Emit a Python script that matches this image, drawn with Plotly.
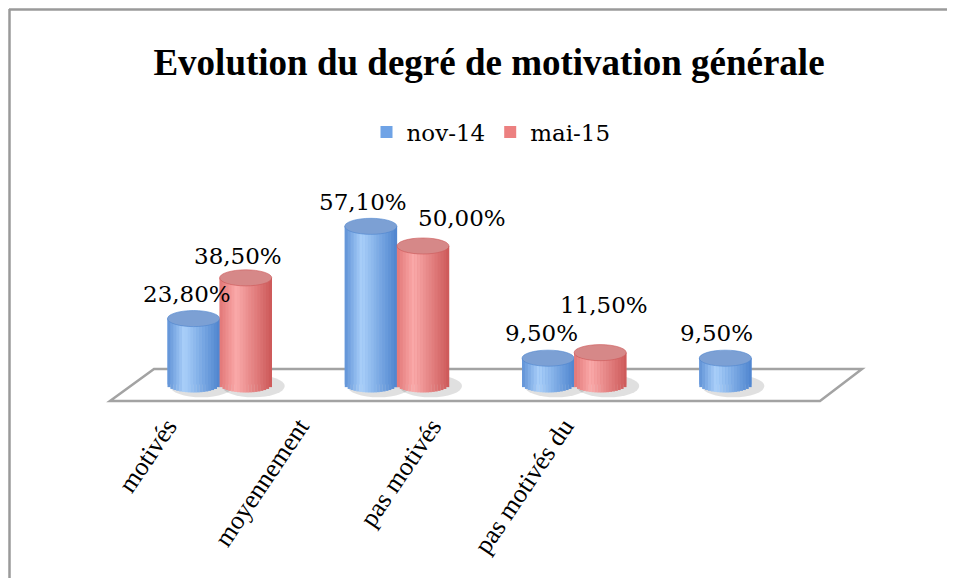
import plotly.graph_objects as go
import math

# ---- data ----
categories = ["motivés", "moyennement", "pas motivés", "pas motivés du"]
nov14 = [23.8, 57.1, 9.5, 9.5]
mai15 = [38.5, 50.0, 11.5, None]
series_names = ["nov-14", "mai-15"]
title_text = "Evolution du degré de motivation générale"

# ---- geometry / style (page pixel targets, page has 8px body offset) ----
OFF = 8
W, H = 955, 578
# plot area in page pixels
PX0, PX1 = 90, 870
PY0, PY1 = 170, 405
ML = PX0 - OFF
MR = W - (PX1 - OFF)
MT = PY0 - OFF
MB = H - (PY1 - OFF)
PW = PX1 - PX0
PH = PY1 - PY0
Y0PIX = 384.5       # page y of value 0
PXPERUNIT = 2.77
YR = [-(PY1 - Y0PIX) / PXPERUNIT, (Y0PIX - PY0) / PXPERUNIT]

def px_x(p):
    return (p - PX0) / PW

def px_y(p):
    return (PY1 - p) / PH

XDOM = [px_x(131), px_x(840)]
X2DOM = [px_x(101), px_x(630)]
BW = 0.294          # bar width in category units
EH = 2.9            # ellipse half-height in y units
NSTRIP = 18

def lerp(c1, c2, t):
    return tuple(int(round(a + (b - a) * t)) for a, b in zip(c1, c2))

def hexc(c):
    return "rgb(%d,%d,%d)" % c

styles = {
    "nov-14": dict(edge=(96, 146, 214), hi=(170, 208, 250), right=(78, 132, 206),
                   top=(124, 160, 212), base="#6fa3e6"),
    "mai-15": dict(edge=(226, 118, 118), hi=(250, 170, 170), right=(204, 88, 88),
                   top=(214, 136, 136), base="#ec8080"),
}

def profile(st, u):
    if u < 0.32:
        return lerp(st["edge"], st["hi"], u / 0.32)
    return lerp(st["hi"], st["right"], (u - 0.32) / 0.68)

fig = go.Figure()

shapes = []
# outer frame (top & left lines)
shapes.append(dict(type="line", xref="paper", yref="paper", x0=px_x(9), x1=px_x(975),
                   y0=px_y(9.5), y1=px_y(9.5), line=dict(color="#9a9a9a", width=2.5)))
shapes.append(dict(type="line", xref="paper", yref="paper", x0=px_x(9.5), x1=px_x(9.5),
                   y0=px_y(9), y1=px_y(600), line=dict(color="#9a9a9a", width=2.5)))
# floor
floor_path = "M %f %f L %f %f L %f %f L %f %f Z" % (
    px_x(154), px_y(369), px_x(862), px_y(369), px_x(820), px_y(401), px_x(110), px_y(401))
shapes.append(dict(type="path", xref="paper", yref="paper", path=floor_path,
                   fillcolor="white", line=dict(color="#a3a3a3", width=2.5), layer="below"))

offsets = {"nov-14": -BW / 2, "mai-15": BW / 2}
values = {"nov-14": nov14, "mai-15": mai15}

# bar traces (base)
for name in series_names:
    fig.add_trace(go.Bar(
        x=list(range(len(categories))), y=values[name], name=name,
        marker=dict(color=styles[name]["base"], line=dict(width=0)),
        width=BW, offset=offsets[name] - BW / 2, hoverinfo="skip",
    ))

# invisible trace to activate the category label axis
fig.add_trace(go.Scatter(x=list(range(len(categories))), y=[0] * len(categories),
                         xaxis="x2", yaxis="y", mode="markers",
                         marker=dict(opacity=0), showlegend=False, hoverinfo="skip"))

# cylinder decoration derived from data
for k in range(len(categories)):
    for name in series_names:
        v = values[name][k]
        if v is None:
            continue
        st = styles[name]
        xc = k + offsets[name]
        shapes.append(dict(type="circle", xref="x", yref="y", x0=xc - BW * 0.45, x1=xc + BW * 0.75,
                           y0=-EH * 1.6, y1=EH * 1.2, fillcolor="rgba(0,0,0,0.12)",
                           line=dict(width=0), layer="below"))
        for i in range(NSTRIP):
            u0 = i / NSTRIP
            u1 = (i + 1) / NSTRIP
            uc = (u0 + u1) / 2
            dxc = uc * 2 - 1
            yb = -EH * math.sqrt(max(0.0, 1 - dxc * dxc))
            col = profile(st, uc)
            shapes.append(dict(type="rect", xref="x", yref="y",
                               x0=xc - BW / 2 + u0 * BW, x1=xc - BW / 2 + u1 * BW + 0.0015,
                               y0=yb, y1=v, fillcolor=hexc(col), line=dict(width=0)))
        shapes.append(dict(type="circle", xref="x", yref="y", x0=xc - BW / 2, x1=xc + BW / 2,
                           y0=v - EH, y1=v + EH, fillcolor=hexc(st["top"]),
                           line=dict(color=hexc(st["right"]), width=0.6)))

# data labels
label_shift = {
    "nov-14": [(-7, 17), (-8, 16), (-7, 17), (-9, 17)],
    "mai-15": [(-8, 14), (39, 20), (4, 40), (0, 0)],
}
annotations = []
for name in series_names:
    for k, v in enumerate(values[name]):
        if v is None:
            continue
        sx, sy = label_shift[name][k]
        annotations.append(dict(
            x=k + offsets[name], y=v + EH, xref="x", yref="y",
            text=("%.2f" % v).replace(".", ",") + "%",
            showarrow=False, xshift=sx, yshift=sy, yanchor="middle",
            font=dict(family="DejaVu Serif", size=23, color="black")))

fig.update_layout(
    width=W, height=H,
    margin=dict(l=ML, r=MR, t=MT, b=MB),
    paper_bgcolor="white", plot_bgcolor="rgba(0,0,0,0)",
    title=dict(text="<b>" + title_text + "</b>", x=(489 - OFF) / W, xanchor="center",
               y=1 - (62 - OFF) / H, yanchor="middle", yref="container",
               font=dict(family="Liberation Serif", size=37, color="black")),
    legend=dict(orientation="h", x=px_x(491), xanchor="center", y=px_y(132), yanchor="middle",
                font=dict(family="DejaVu Serif", size=23, color="black"),
                itemwidth=30, bgcolor="rgba(0,0,0,0)"),
    barmode="overlay",
    showlegend=True,
    xaxis=dict(domain=XDOM, range=[-0.5, 3.5], showticklabels=False, showgrid=False,
               zeroline=False, showline=False, ticks=""),
    xaxis2=dict(domain=X2DOM, range=[-0.5, 3.5], anchor="free", position=0, side="bottom",
                tickmode="array", tickvals=list(range(len(categories))), ticktext=categories,
                tickangle=-56, showgrid=False, zeroline=False, showline=False, ticks="",
                tickfont=dict(family="Liberation Serif", size=26, color="black")),
    yaxis=dict(range=YR, showticklabels=False, showgrid=False, zeroline=False, showline=False),
    shapes=shapes,
    annotations=annotations,
)

fig.write_html("out.html")
